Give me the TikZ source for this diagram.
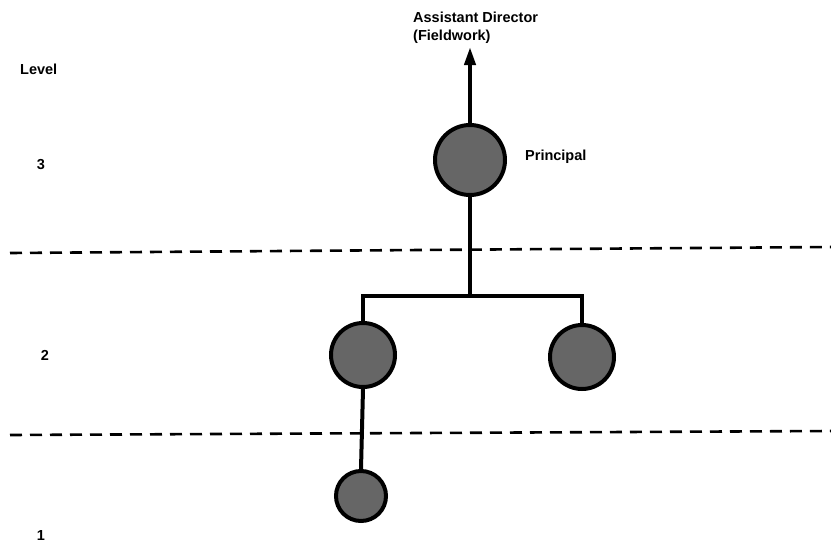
\documentclass[tikz,border=0pt]{standalone}
\usepackage{fontspec}
\setmainfont{Liberation Sans}
\usetikzlibrary{arrows.meta}
\tikzset{
  member/.style={circle, draw=black, line width=4pt, fill=black!60, inner sep=0pt},
  link/.style={line width=4pt},
  levelline/.style={line width=2.6pt, dash pattern=on 12pt off 8pt},
  lbl/.style={font=\bfseries\fontsize{14.5}{18}\selectfont, inner sep=0pt}
}
\begin{document}
\begin{tikzpicture}[x=1pt,y=-1pt]
\useasboundingbox (0,0) rectangle (831,549);
% level separators
\draw[levelline] (10,253) -- (831,247);
\draw[levelline] (10,435) -- (831,431);
% level labels
\node[lbl, anchor=west] (lev) at (20,69) {Level};
\node[lbl] (l3) at (41,165) {3};
\node[lbl] (l2) at (45,355) {2};
\node[lbl] (l1) at (41,536) {1};
% members
\node[member, minimum size=70pt] (P) at (470,160) {};
\node[member, minimum size=64pt] (L) at (363,355) {};
\node[member, minimum size=64pt] (R) at (582,357) {};
\node[member, minimum size=50pt] (B) at (361,496) {};
\node[lbl, anchor=west] (plab) at (525,157) {Principal};
\node[lbl, anchor=west, align=left] (ad) at (413,28) {Assistant Director\\(Fieldwork)};
% connectors
\coordinate (top) at (470,47);
\coordinate (bar) at (470,296);
\draw[link, -{Triangle[length=18pt,width=11pt]}] (P.north) -- (top);
\draw[link] (P.south) -- (bar);
\draw[link, line cap=rect] (L.north) -- (L.north |- bar) -- (R.north |- bar) -- (R.north);
\draw[link] (L.south) -- (B.north);
\end{tikzpicture}
\end{document}
